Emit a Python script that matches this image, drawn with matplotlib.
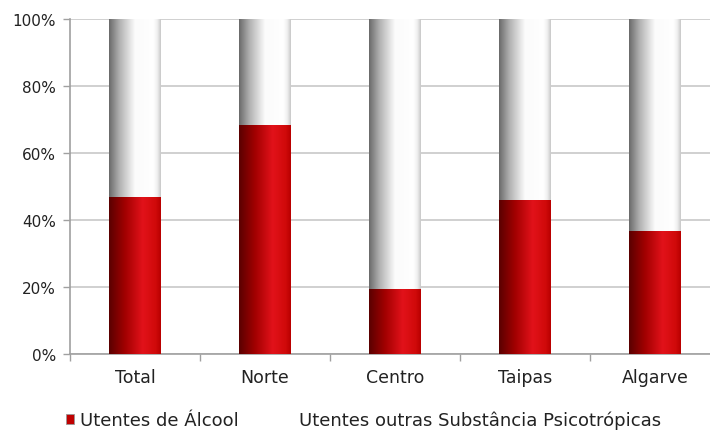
import numpy as np
import matplotlib
matplotlib.use("Agg")
import matplotlib.pyplot as plt
from matplotlib.colors import LinearSegmentedColormap
from matplotlib.patches import Patch

categories = ["Total", "Norte", "Centro", "Taipas", "Algarve"]
alcool = [46.9, 68.4, 19.4, 46.1, 36.8]
outras = [100 - v for v in alcool]
series_names = ["Utentes de Álcool", "Utentes outras Substância Psicotrópicas"]
yticks = [0, 20, 40, 60, 80, 100]
ytick_labels = ["0%", "20%", "40%", "60%", "80%", "100%"]

plt.rcParams['font.family'] = ['DejaVu Sans']

W, H = 710, 431
fig = plt.figure(figsize=(W / 100, H / 100), dpi=100)
ax = fig.add_axes([70 / W, (H - 355) / H, 650 / W, 335 / H])

x = np.arange(len(categories))
bw = 0.4
red_bars = ax.bar(x, alcool, width=bw, color="#c00000", zorder=2)
white_bars = ax.bar(x, outras, width=bw, bottom=alcool, color="#f0f0f0", zorder=2)

red_cmap = LinearSegmentedColormap.from_list(
    "red", [(0, "#5a0000"), (0.3, "#a00000"), (0.65, "#e2121a"), (0.9, "#d00a0a"), (1, "#b80000")])
white_cmap = LinearSegmentedColormap.from_list(
    "white", [(0, "#6a6a6a"), (0.2, "#b0b0b0"), (0.5, "#fbfbfb"), (0.85, "#ffffff"), (0.93, "#f0f0f0"), (1, "#c8c8c8")])

grad = np.linspace(0, 1, 256).reshape(1, -1)
for bars, cmap in ((red_bars, red_cmap), (white_bars, white_cmap)):
    for r in bars:
        x0, y0 = r.get_x(), r.get_y()
        im = ax.imshow(grad, cmap=cmap, aspect="auto",
                       extent=(x0, x0 + r.get_width(), y0, y0 + r.get_height()),
                       zorder=3, interpolation="bilinear")
        im.set_clip_path(r)

ax.set_xlim(-0.5, len(categories) - 0.5)
ax.set_ylim(0, 100)
ax.set_yticks(yticks)
ax.set_yticklabels(ytick_labels)
ax.set_xticks(x)
ax.set_xticklabels(categories)
ax.set_xticks(np.arange(len(categories) + 1) - 0.5, minor=True)
ax.tick_params(axis="x", which="major", length=0, pad=10, labelsize=12.5, colors="#222222")
ax.tick_params(axis="x", which="minor", length=5, width=1, color="#a0a0a0", direction="out")
ax.tick_params(axis="y", length=5, width=1, color="#a0a0a0", direction="out", pad=5,
               labelsize=11, labelcolor="#222222")
ax.yaxis.grid(True, color="#c4c4c4", lw=1.1, zorder=0)
ax.set_axisbelow(True)
for s in ("top", "right"):
    ax.spines[s].set_visible(False)
for s in ("left", "bottom"):
    ax.spines[s].set_color("#a0a0a0")
    ax.spines[s].set_linewidth(1.2)

handles = [Patch(facecolor="#c00000", edgecolor="#999999", linewidth=0.6),
           Patch(facecolor="white", edgecolor="none")]
leg = fig.legend(handles, series_names, loc="center left", bbox_to_anchor=(66 / W, 1 - 421 / H),
                 ncol=2, frameon=False, fontsize=13, handlelength=0.45, handleheight=0.45,
                 handletextpad=0.3, columnspacing=2.6, borderaxespad=0, borderpad=0)
for t in leg.get_texts():
    t.set_color("#222222")

fig.savefig("out.png", dpi=100)
